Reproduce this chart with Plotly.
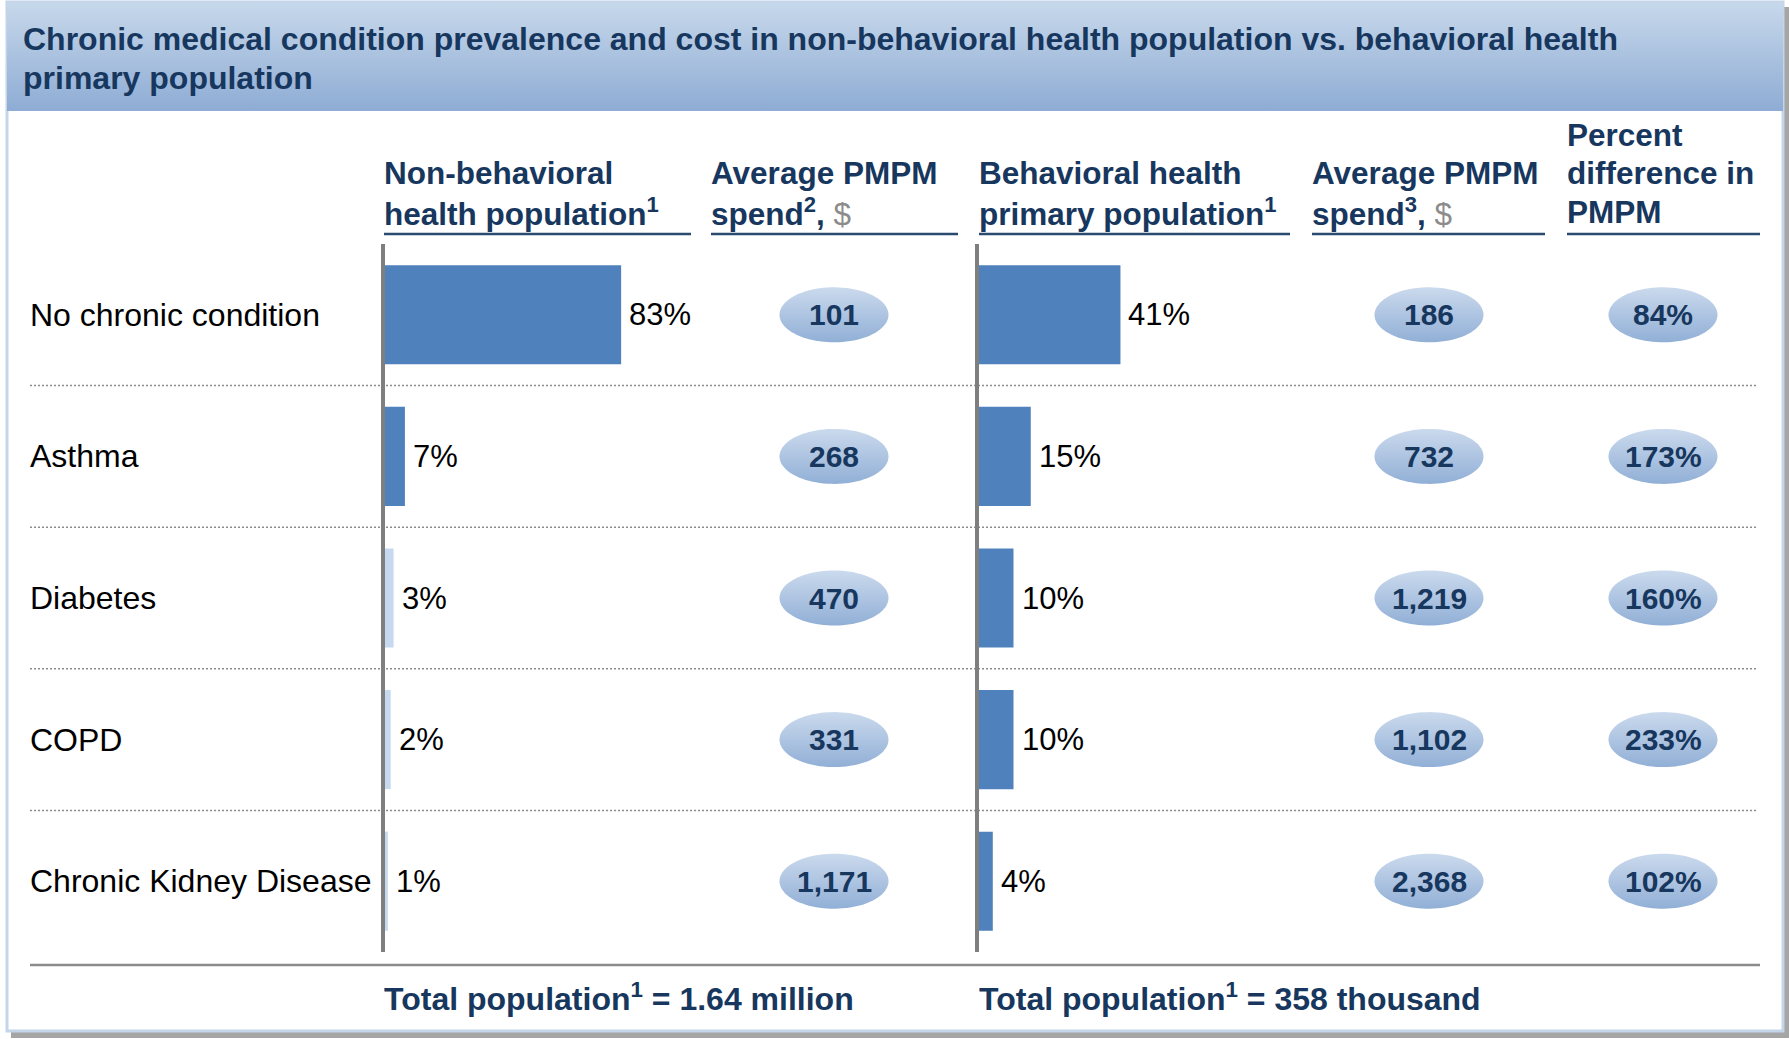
import numpy as np
import plotly.graph_objects as go

# ---------------- data ----------------
categories = ["No chronic condition", "Asthma", "Diabetes", "COPD", "Chronic Kidney Disease"]
nonbh_pct = [83, 7, 3, 2, 1]
nonbh_pmpm = [101, 268, 470, 331, 1171]
bh_pct = [41, 15, 10, 10, 4]
bh_pmpm = [186, 732, 1219, 1102, 2368]
pct_diff = [84, 173, 160, 233, 102]

title_lines = [
    "Chronic medical condition prevalence and cost in non-behavioral health population vs. behavioral health",
    "primary population",
]
DOLLAR = "<span style='color:#8c8c8c;font-weight:normal'>$</span>"
header_lines = [
    ["Non-behavioral", "health population<sup>1</sup>"],
    ["Average PMPM", "spend<sup>2</sup>, " + DOLLAR],
    ["Behavioral health", "primary population<sup>1</sup>"],
    ["Average PMPM", "spend<sup>3</sup>, " + DOLLAR],
    ["Percent", "difference in", "PMPM"],
]
footer_texts = ["Total population<sup>1</sup> = 1.64 million",
                "Total population<sup>1</sup> = 358 thousand"]

# ---------------- style / layout constants (pixels) ----------------
W, H = 1789, 1039
FONT = "Liberation Sans, Arial, sans-serif"
NAVY = "#17375E"
BAR_BLUE = "#4F81BD"
BAR_LIGHT = "#C6D9F1"
left_bar_colors = [BAR_BLUE, BAR_BLUE, BAR_LIGHT, BAR_LIGHT, BAR_LIGHT]

ROW_TOP, ROW_BOT = 244, 952
LEFT_X0, LEFT_PX_PER = 385, 2.845
RIGHT_X0, RIGHT_PX_PER = 979, 3.45
COL_STARTS = [384, 711, 979, 1312, 1567]
COL_ENDS = [691, 958, 1290, 1545, 1760]
OVAL_CENTERS = [834, 1429, 1663]
OVAL_HW, OVAL_HH = 54.5, 27.5
HEADER_LINE_Y = [212, 173, 135]  # from bottom line upward
UNDERLINE_Y = 234
NOPAD = dict(borderpad=0, borderwidth=0)


def px(x):
    return x / W


def py(y):
    return 1 - y / H


row_px = (ROW_BOT - ROW_TOP) / len(categories)

fig = go.Figure()

# ---------------- bars ----------------
fig.add_trace(go.Bar(
    x=nonbh_pct, y=categories, orientation="h", width=0.7,
    marker=dict(color=left_bar_colors, line=dict(width=0)),
    xaxis="x", yaxis="y", hoverinfo="skip"))
fig.add_trace(go.Bar(
    x=bh_pct, y=categories, orientation="h", width=0.7,
    marker=dict(color=BAR_BLUE, line=dict(width=0)),
    xaxis="x2", yaxis="y2", hoverinfo="skip"))

# ---------------- title band (gradient, light at top) ----------------
fig.add_trace(go.Scatter(
    x=[7, 1783, 1783, 7, 7], y=[2, 2, 111, 111, 2],
    mode="none", fill="toself",
    fillgradient=dict(type="vertical",
                      colorscale=[[0, "#8EACD4"], [1, "#C7D8EB"]]),
    xaxis="x3", yaxis="y3", hoverinfo="skip"))

# ---------------- ovals ----------------
t = np.linspace(0, 2 * np.pi, 90)
oval_cols = [
    [f"{v:,}" for v in nonbh_pmpm],
    [f"{v:,}" for v in bh_pmpm],
    [f"{v}%" for v in pct_diff],
]
hh_units = OVAL_HH / row_px
for cx, labels in zip(OVAL_CENTERS, oval_cols):
    for i, lab in enumerate(labels):
        fig.add_trace(go.Scatter(
            x=cx + OVAL_HW * np.cos(t), y=i + hh_units * np.sin(t),
            mode="none", fill="toself",
            fillgradient=dict(type="vertical",
                              colorscale=[[0, "#91AFD6"], [1, "#CBDAED"]]),
            xaxis="x3", yaxis="y4", hoverinfo="skip"))

annotations = []
# oval text
for cx, labels in zip(OVAL_CENTERS, oval_cols):
    for cat, lab in zip(categories, labels):
        annotations.append(dict(
            x=px(cx), xref="paper", y=cat, yref="y",
            text=f"<b>{lab}</b>", showarrow=False,
            xanchor="center", yanchor="middle",
            font=dict(family=FONT, size=30, color=NAVY)))

# bar value labels
for axis, vals in [("x", nonbh_pct), ("x2", bh_pct)]:
    yref = "y" if axis == "x" else "y2"
    for cat, v in zip(categories, vals):
        annotations.append(dict(
            x=v, xref=axis, y=cat, yref=yref, text=f"{v}%",
            showarrow=False, xanchor="left", yanchor="middle", xshift=8,
            font=dict(family=FONT, size=31, color="#000000"), **NOPAD))

# row labels
for cat in categories:
    annotations.append(dict(
        x=px(30), xref="paper", y=cat, yref="y", text=cat,
        showarrow=False, xanchor="left", yanchor="middle",
        font=dict(family=FONT, size=32, color="#000000"), **NOPAD))

# title
for j, line in enumerate(title_lines):
    annotations.append(dict(
        x=px(23), xref="paper", y=py(39 + j * 39), yref="paper",
        text=f"<b>{line}</b>", showarrow=False,
        xanchor="left", yanchor="middle",
        font=dict(family=FONT, size=32, color=NAVY), **NOPAD))

# headers
for x0, lines in zip(COL_STARTS, header_lines):
    for k, line in enumerate(reversed(lines)):
        annotations.append(dict(
            x=px(x0), xref="paper", y=py(HEADER_LINE_Y[k]), yref="paper",
            text=f"<b>{line}</b>", showarrow=False,
            xanchor="left", yanchor="middle",
            font=dict(family=FONT, size=31.5, color=NAVY), **NOPAD))

# footer
for x0, txt in zip([384, 979], footer_texts):
    annotations.append(dict(
        x=px(x0), xref="paper", y=py(997), yref="paper",
        text=f"<b>{txt}</b>", showarrow=False,
        xanchor="left", yanchor="middle",
        font=dict(family=FONT, size=32, color=NAVY), **NOPAD))

# ---------------- shapes ----------------
shapes = [
    # drop shadow
    dict(type="rect", xref="paper", yref="paper", layer="below",
         x0=px(11), x1=px(1789), y0=py(1038), y1=py(7),
         fillcolor="#A5A5A5", line=dict(width=0)),
    # white panel with light border
    dict(type="rect", xref="paper", yref="paper", layer="below",
         x0=px(7), x1=px(1783), y0=py(1031), y1=py(2),
         fillcolor="#FFFFFF", line=dict(color="#C4D5EA", width=3)),
]
# dotted separators between rows
for i in range(len(categories) - 1):
    shapes.append(dict(
        type="line", xref="paper", yref="y4", layer="below",
        x0=px(30), x1=px(1757), y0=i + 0.5, y1=i + 0.5,
        line=dict(color="#8C8C8C", width=1.5, dash="2px,2px")))
# bottom solid rule
shapes.append(dict(type="line", xref="paper", yref="paper",
                   x0=px(30), x1=px(1760), y0=py(965), y1=py(965),
                   line=dict(color="#8C8C8C", width=2.5)))
# header underlines
for x0, x1 in zip(COL_STARTS, COL_ENDS):
    shapes.append(dict(type="line", xref="paper", yref="paper",
                       x0=px(x0), x1=px(x1), y0=py(UNDERLINE_Y), y1=py(UNDERLINE_Y),
                       line=dict(color="#2B4A70", width=2.5)))

hidden = dict(showgrid=False, zeroline=False, showticklabels=False,
              ticks="", showline=False, fixedrange=True)
ydom = [py(ROW_BOT), py(ROW_TOP)]
ycat = dict(type="category", categoryorder="array", categoryarray=categories,
            range=[len(categories) - 0.5, -0.5], domain=ydom,
            showgrid=False, zeroline=False, showticklabels=False, ticks="",
            showline=True, linecolor="#7F7F7F", linewidth=4, fixedrange=True)

fig.update_layout(
    width=W, height=H, autosize=False,
    margin=dict(l=0, r=0, t=0, b=0, pad=0),
    paper_bgcolor="#FFFFFF", plot_bgcolor="rgba(0,0,0,0)",
    showlegend=False, hovermode=False, bargap=0.3,
    xaxis=dict(domain=[px(LEFT_X0), px(LEFT_X0 + 100 * LEFT_PX_PER)],
               range=[0, 100], anchor="y", **hidden),
    yaxis=dict(anchor="x", **ycat),
    xaxis2=dict(domain=[px(RIGHT_X0), px(RIGHT_X0 + 100 * RIGHT_PX_PER)],
                range=[0, 100], anchor="y2", **hidden),
    yaxis2=dict(anchor="x2", **ycat),
    xaxis3=dict(domain=[0, 1], range=[0, W], anchor="y3", **hidden),
    yaxis3=dict(domain=[0, 1], range=[H, 0], anchor="x3", **hidden),
    yaxis4=dict(domain=ydom, range=[len(categories) - 0.5, -0.5],
                anchor="x3", **hidden),
    annotations=annotations,
    shapes=shapes,
)

fig.write_html(
    "out.html",
    config={"displayModeBar": False},
    post_script="document.body.style.margin='0';document.body.style.overflow='hidden';",
)
